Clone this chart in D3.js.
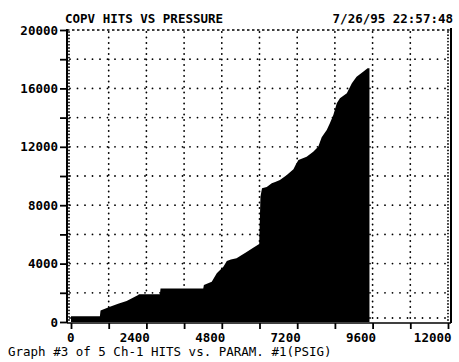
<!DOCTYPE html>
<html>
<head>
<meta charset="utf-8">
<script src="https://cdn.jsdelivr.net/npm/d3@7"></script>
<style>
  html, body { margin: 0; padding: 0; background: #fff; }
  svg { display: block; }
  text { font-family: "DejaVu Sans Mono", "Liberation Mono", monospace; fill: #000; }
</style>
</head>
<body>
<svg id="chart" width="459" height="362"></svg>
<script>
// Cumulative COPV hits against pressure (PSIG)
const pressure = [0, 920, 940, 1240, 1500, 1770, 2140, 2160, 2830, 2850, 4210, 4230, 4480,
  4640, 4850, 4960, 5090, 5270, 5410, 5590, 5800, 5990, 6030, 6080, 6230, 6390, 6520, 6650,
  6870, 7080, 7160, 7240, 7500, 7710, 7870, 7980, 8140, 8240, 8350, 8460, 8560, 8780, 8940,
  9090, 9300, 9440, 9500];
const hits = [400, 400, 780, 1050, 1250, 1440, 1850, 1900, 1900, 2300, 2300, 2530, 2760,
  3340, 3790, 4180, 4280, 4360, 4550, 4800, 5080, 5350, 8580, 9160, 9250, 9500, 9600, 9730,
  10070, 10460, 10800, 11100, 11320, 11660, 12010, 12650, 13150, 13610, 14180, 14980, 15320,
  15660, 16350, 16800, 17140, 17380, 17380];

const xTicks = [0, 1200, 2400, 3600, 4800, 6000, 7200, 8400, 9600, 10800, 12000];
const xLabels = [0, 2400, 4800, 7200, 9600, 12000];
const yTicks = [0, 2000, 4000, 6000, 8000, 10000, 12000, 14000, 16000, 18000, 20000];
const yLabels = [0, 4000, 8000, 12000, 16000, 20000];

const titleText = "COPV HITS VS PRESSURE";
const stampText = "7/26/95 22:57:48";
const captionText = "Graph #3 of 5 Ch-1 HITS vs. PARAM. #1(PSIG)";

const svg = d3.select("#chart");
const frame = { left: 67, right: 451, top: 30, bottom: 322 };

const x = d3.scaleLinear().domain([0, 12000]).range([71, 448]);
const y = d3.scaleLinear().domain([0, 20000]).range([322, 30]);

const data = pressure.map((p, i) => ({ p, h: hits[i] }));

// dotted grid
const grid = svg.append("g").attr("stroke", "#000").attr("stroke-linecap", "round");
grid.selectAll("line.h")
  .data(yTicks.filter(v => v > 0 && v < 20000))
  .join("line")
  .attr("x1", frame.left + 3).attr("x2", frame.right - 2)
  .attr("y1", d => y(d)).attr("y2", d => y(d))
  .attr("stroke-width", 1.8)
  .attr("stroke-dasharray", "0,7.5");
grid.append("line")
  .attr("x1", frame.left + 3).attr("x2", frame.right - 2)
  .attr("y1", y(0) - 4).attr("y2", y(0) - 4)
  .attr("stroke-width", 1.8)
  .attr("stroke-dasharray", "0,7.5");
grid.selectAll("line.v")
  .data(xTicks)
  .join("line")
  .attr("x1", d => x(d) - (d === 0 ? 2 : 0)).attr("x2", d => x(d) - (d === 0 ? 2 : 0))
  .attr("y1", frame.top + 2).attr("y2", frame.bottom - 1)
  .attr("stroke-width", 1.8)
  .attr("stroke-dasharray", d => (d === 0 || d === 12000) ? "0,3.2" : "0,5.5");
// top edge
grid.append("line")
  .attr("x1", frame.left).attr("x2", frame.right)
  .attr("y1", frame.top).attr("y2", frame.top)
  .attr("stroke-width", 1.6)
  .attr("stroke-linecap", "butt")
  .attr("stroke-dasharray", "2.5,2.5");

// filled hits area
const area = d3.area()
  .x(d => x(d.p))
  .y0(y(0))
  .y1(d => y(d.h));
svg.append("path")
  .datum(data)
  .attr("d", area)
  .attr("fill", "#000");

// frame lines
const axes = svg.append("g").attr("stroke", "#000").attr("fill", "none");
axes.append("line").attr("x1", frame.left).attr("x2", frame.left)
  .attr("y1", frame.top - 1).attr("y2", frame.bottom + 1).attr("stroke-width", 2);
axes.append("line").attr("x1", frame.right).attr("x2", frame.right)
  .attr("y1", frame.top - 2).attr("y2", frame.bottom + 1).attr("stroke-width", 2);
axes.append("line").attr("x1", frame.left).attr("x2", frame.right)
  .attr("y1", frame.bottom + 1).attr("y2", frame.bottom + 1).attr("stroke-width", 1.6);

// y axis ticks and labels
const yAxis = d3.axisLeft(y)
  .tickValues(yTicks)
  .tickSize(7)
  .tickPadding(2)
  .tickFormat(d => yLabels.includes(d) ? String(d) : "");
const gy = svg.append("g").attr("transform", `translate(${frame.left},0)`).call(yAxis);
gy.select(".domain").remove();
gy.selectAll(".tick line").attr("stroke", "#000").attr("stroke-width", 1.8);
gy.selectAll(".tick text")
  .attr("font-family", "DejaVu Sans Mono, monospace")
  .attr("font-size", 12.5).attr("font-weight", "bold").attr("fill", "#000");

// x axis ticks and labels
const xAxis = d3.axisBottom(x)
  .tickValues(xTicks)
  .tickSize(6)
  .tickPadding(4)
  .tickFormat(d => xLabels.includes(d) ? String(d) : "");
const gx = svg.append("g").attr("transform", `translate(0,${frame.bottom + 1})`).call(xAxis);
gx.select(".domain").remove();
gx.selectAll(".tick line").attr("stroke", "#000").attr("stroke-width", 1.8);
gx.selectAll(".tick text")
  .attr("text-anchor", "end")
  .attr("dx", 3)
  .attr("font-family", "DejaVu Sans Mono, monospace")
  .attr("font-size", 12.5).attr("font-weight", "bold").attr("fill", "#000");

// header and footer text
svg.append("text").attr("x", 65).attr("y", 23)
  .attr("font-size", 12.5).attr("font-weight", "bold").text(titleText);
svg.append("text").attr("x", 453).attr("y", 23).attr("text-anchor", "end")
  .attr("font-size", 12.5).attr("font-weight", "bold").text(stampText);
svg.append("text").attr("x", 8).attr("y", 356)
  .attr("font-size", 12.5).attr("font-weight", "normal").text(captionText);
</script>
</body>
</html>
